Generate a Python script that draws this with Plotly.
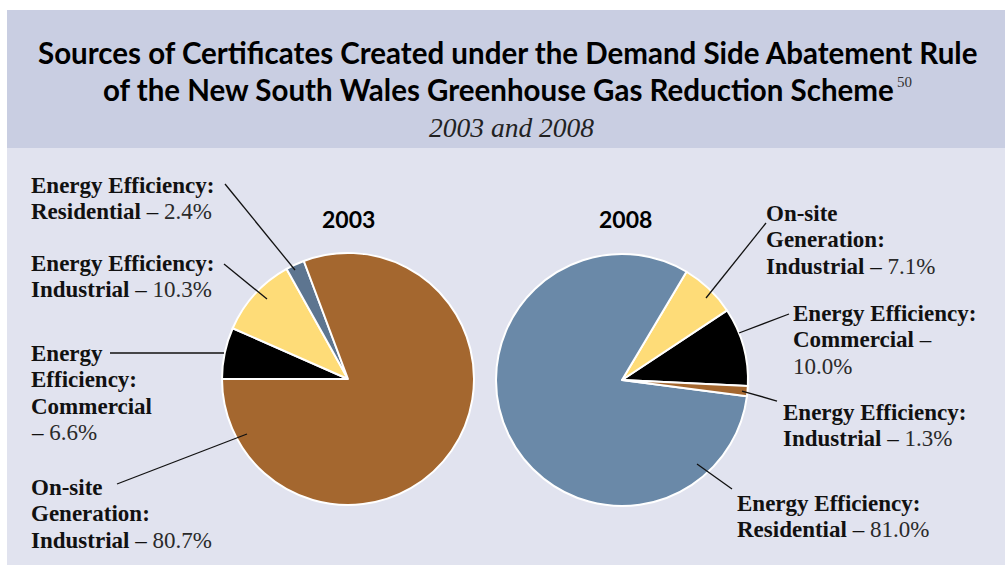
import plotly.graph_objects as go

W, H = 1005, 571

# Share of certificates by source (%)
labels_2003 = ["Energy Efficiency: Commercial", "Energy Efficiency: Industrial",
               "Energy Efficiency: Residential", "On-site Generation: Industrial"]
values_2003 = [6.6, 10.3, 2.4, 80.7]
colors_2003 = ["#000000", "#fedc78", "#5d7590", "#a4672f"]

labels_2008 = ["Energy Efficiency: Commercial", "On-site Generation: Industrial",
               "Energy Efficiency: Residential", "Energy Efficiency: Industrial"]
values_2008 = [10.0, 7.1, 81.0, 1.3]
colors_2008 = ["#000000", "#fedc78", "#6a89a8", "#a4672f"]


def px(x):
    return x / W


def py(y):
    return 1 - y / H


def pie_domain(cx, cy, r):
    return dict(x=[px(cx - r), px(cx + r)], y=[py(cy + r), py(cy - r)])


fig = go.Figure()

fig.add_trace(go.Pie(
    labels=labels_2003, values=values_2003, sort=False,
    direction="clockwise", rotation=270,
    marker=dict(colors=colors_2003, line=dict(color="white", width=2)),
    textinfo="none", hoverinfo="label+percent", showlegend=False,
    domain=pie_domain(348, 379, 126),
))

# counterclockwise: the first slice's leading edge sits at `rotation`
fig.add_trace(go.Pie(
    labels=labels_2008, values=values_2008, sort=False,
    direction="counterclockwise", rotation=56.5,
    marker=dict(colors=colors_2008, line=dict(color="white", width=2)),
    textinfo="none", hoverinfo="label+percent", showlegend=False,
    domain=pie_domain(622, 380, 126),
))

shapes = [
    # header band and body panel
    dict(type="rect", xref="paper", yref="paper", x0=px(7), x1=1, y0=py(148), y1=py(10),
         fillcolor="#c9cee2", line=dict(width=0), layer="below"),
    dict(type="rect", xref="paper", yref="paper", x0=px(7), x1=1, y0=py(565), y1=py(148),
         fillcolor="#e1e3ef", line=dict(width=0), layer="below"),
]

leaders = [
    # 2003
    (225, 184, 295, 270),
    (224, 264, 267, 299),
    (110, 353, 224, 353),
    (117, 484, 247, 434),
    # 2008
    (766, 223, 706, 298),
    (789, 314, 739, 333),
    (777, 401, 742, 391),
    (732, 489, 697, 464),
]
for x0, y0, x1, y1 in leaders:
    shapes.append(dict(type="line", xref="paper", yref="paper",
                       x0=px(x0), y0=py(y0), x1=px(x1), y1=py(y1),
                       line=dict(color="#111111", width=1.3)))

SERIF = "Liberation Serif"
SANS = "Lato"
annotations = []


def note(x, y, text, size=23, family=SERIF, color="#111111", xanchor="left", yanchor="middle"):
    annotations.append(dict(x=px(x), y=py(y), xref="paper", yref="paper", text=text,
                            showarrow=False, xanchor=xanchor, yanchor=yanchor, align="left",
                            borderpad=0,
                            font=dict(family=family, size=size, color=color)))


def block(x, y_first, lines, step=26.6):
    for i, line in enumerate(lines):
        note(x - 2, y_first + i * step, line)


def val(v):
    return f"<span style='color:#2a2a2a'>{v:.1f}%</span>"


# header
note(508, 52, "<b>Sources of Certificates Created under the Demand Side Abatement Rule</b>",
     size=29.5, family=SANS, color="#000000", xanchor="center")
note(498, 89, "<b>of the New South Wales Greenhouse Gas Reduction Scheme</b>",
     size=29.5, family=SANS, color="#000000", xanchor="center")
note(896, 82, "50", size=15, family=SERIF, color="#333333")
note(512, 127, "<i>2003 and 2008</i>", size=27.5, family=SERIF, color="#222222", xanchor="center")

# pie titles
note(348, 219, "<b>2003</b>", size=23, family=SANS, color="#000000", xanchor="center")
note(625, 219, "<b>2008</b>", size=23, family=SANS, color="#000000", xanchor="center")

# 2003 labels
block(32, 185, ["<b>Energy Efficiency:</b>", f"<b>Residential</b> – {val(values_2003[2])}"])
block(32, 263, ["<b>Energy Efficiency:</b>", f"<b>Industrial</b> – {val(values_2003[1])}"])
block(32, 353, ["<b>Energy</b>", "<b>Efficiency:</b>", "<b>Commercial</b>",
                f"– {val(values_2003[0])}"])
block(32, 487, ["<b>On-site</b>", "<b>Generation:</b>", f"<b>Industrial</b> – {val(values_2003[3])}"])

# 2008 labels
block(767, 213, ["<b>On-site</b>", "<b>Generation:</b>", f"<b>Industrial</b> – {val(values_2008[1])}"])
block(794, 313, ["<b>Energy Efficiency:</b>", "<b>Commercial</b> –", val(values_2008[0])])
block(784, 412, ["<b>Energy Efficiency:</b>", f"<b>Industrial</b> – {val(values_2008[3])}"])
block(738, 503, ["<b>Energy Efficiency:</b>", f"<b>Residential</b> – {val(values_2008[2])}"])

fig.update_layout(
    width=W, height=H,
    margin=dict(l=0, r=0, t=0, b=0),
    paper_bgcolor="white", plot_bgcolor="white",
    shapes=shapes, annotations=annotations,
    showlegend=False,
)

fig.write_html("out.html", config={"displayModeBar": False})
